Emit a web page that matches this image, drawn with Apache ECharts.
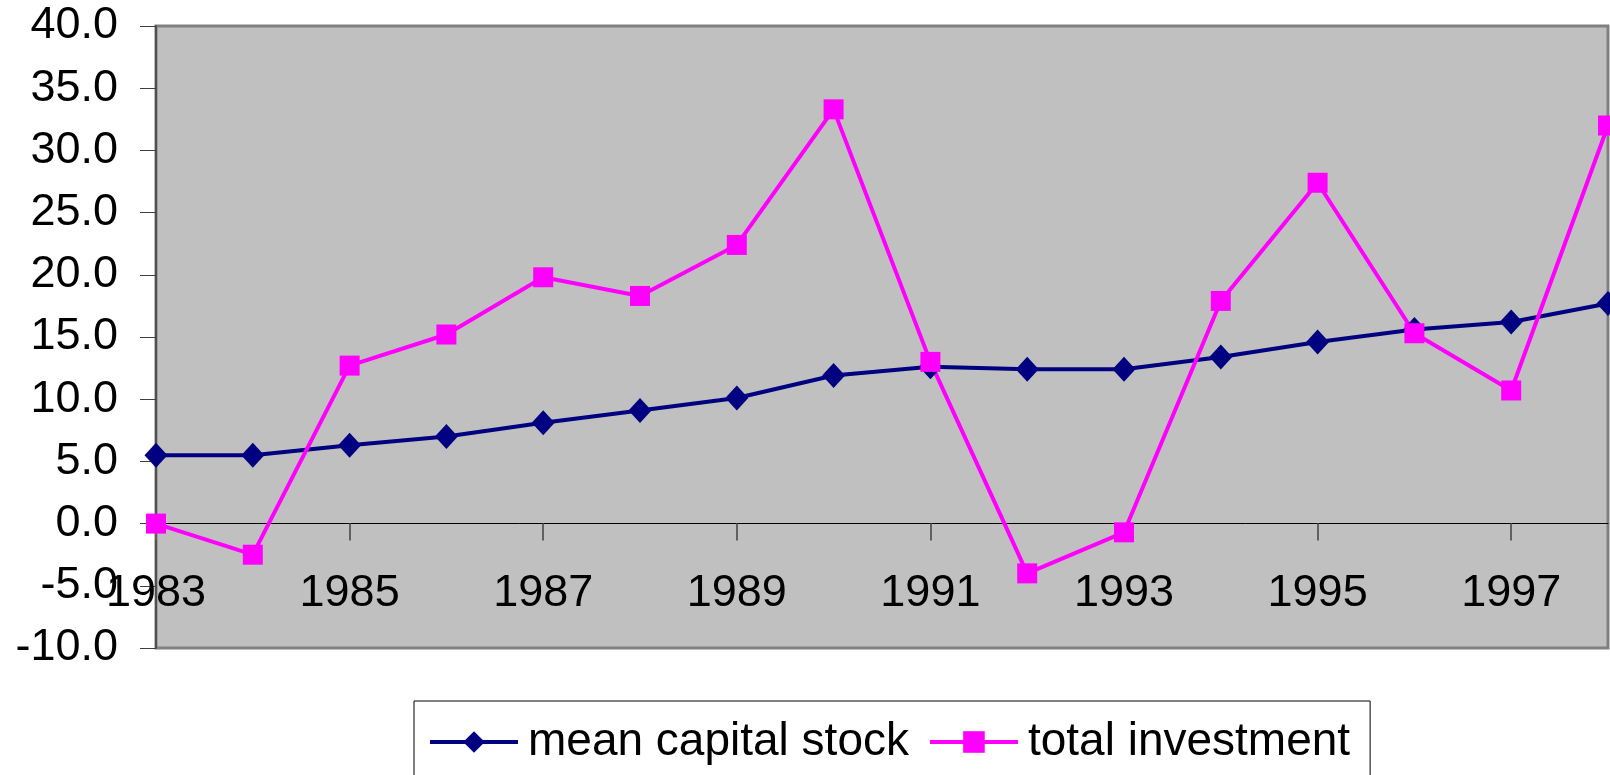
<!DOCTYPE html>
<html>
<head>
<meta charset="utf-8">
<script src="https://cdn.jsdelivr.net/npm/echarts@6/dist/echarts.min.js"></script>
<style>
  html, body { margin: 0; padding: 0; background: #ffffff; }
  #chart { width: 1610px; height: 775px; }
</style>
</head>
<body>
<div id="chart"></div>
<script>
  // years on the x axis
  var years = ['1983', '1984', '1985', '1986', '1987', '1988', '1989', '1990',
               '1991', '1992', '1993', '1994', '1995', '1996', '1997', '1998'];
  var meanCapitalStock = [5.5, 5.5, 6.3, 7.0, 8.1, 9.1, 10.1, 11.9,
                          12.6, 12.4, 12.4, 13.4, 14.6, 15.6, 16.2, 17.7];
  var totalInvestment = [0.0, -2.5, 12.7, 15.2, 19.8, 18.3, 22.4, 33.3,
                         13.0, -4.0, -0.7, 17.9, 27.4, 15.3, 10.7, 32.0];

  var font = '"Liberation Sans", Arial, sans-serif';
  var chart = echarts.init(document.getElementById('chart'));

  chart.setOption({
    animation: false,
    backgroundColor: '#ffffff',
    grid: {
      left: 156,
      right: 2,
      top: 26,
      bottom: 127,
      show: true,
      backgroundColor: '#c0c0c0',
      borderColor: '#808080',
      borderWidth: 3
    },
    legend: {
      left: 414,
      top: 701,
      padding: [18, 20, 60, 14],
      itemGap: 19,
      itemWidth: 88,
      itemHeight: 27,
      borderColor: '#000000',
      borderWidth: 1,
      lineStyle: { width: 4 },
      textStyle: {
        fontFamily: font,
        fontSize: 46,
        color: '#000000',
        padding: [0, 0, 0, 5]
      },
      data: ['mean capital stock', 'total investment']
    },
    xAxis: {
      type: 'category',
      data: years,
      boundaryGap: false,
      axisLine: {
        onZero: true,
        lineStyle: { color: '#000000', width: 1 }
      },
      axisTick: {
        interval: 1,
        length: 17,
        lineStyle: { color: '#606060', width: 2 }
      },
      axisLabel: {
        interval: 1,
        margin: -77,
        fontFamily: font,
        fontSize: 45,
        color: '#000000'
      },
      splitLine: { show: false }
    },
    yAxis: {
      type: 'value',
      min: -10,
      max: 40,
      interval: 5,
      axisLine: {
        show: true,
        lineStyle: { color: '#505050', width: 2 }
      },
      axisTick: {
        show: true,
        length: 16,
        lineStyle: { color: '#404040', width: 1 }
      },
      axisLabel: {
        margin: 38,
        fontFamily: font,
        fontSize: 45,
        color: '#000000',
        formatter: function (v) { return v.toFixed(1); }
      },
      splitLine: { show: false }
    },
    series: [
      {
        name: 'mean capital stock',
        type: 'line',
        data: meanCapitalStock,
        symbol: 'diamond',
        symbolSize: [23, 25],
        lineStyle: { color: '#000080', width: 4 },
        itemStyle: { color: '#000080' }
      },
      {
        name: 'total investment',
        type: 'line',
        data: totalInvestment,
        symbol: 'rect',
        symbolSize: 20,
        lineStyle: { color: '#ff00ff', width: 4 },
        itemStyle: { color: '#ff00ff' }
      }
    ]
  });
</script>
</body>
</html>
